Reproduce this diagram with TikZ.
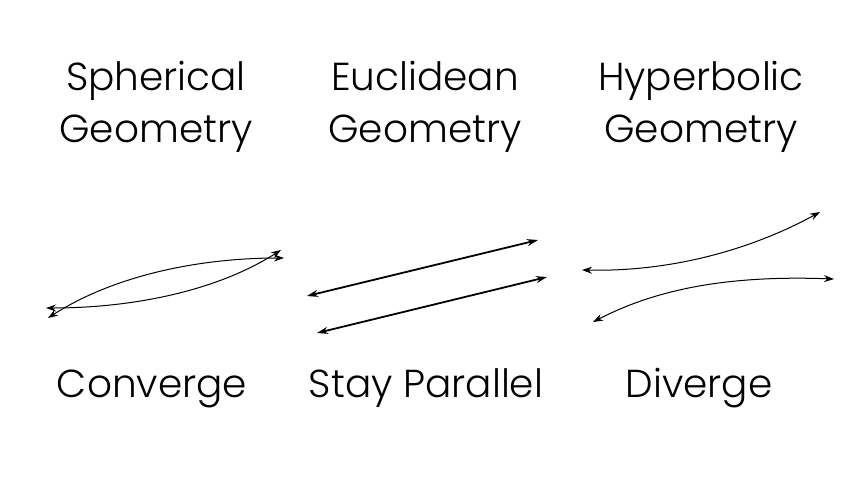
\documentclass[tikz,border=0pt]{standalone}
\usepackage{fontspec}
\setmainfont{Poppins Light}
\usetikzlibrary{arrows.meta}
\begin{document}
\begin{tikzpicture}[x=1pt,y=-1pt,
  title/.style={font=\fontsize{39}{52}\selectfont, align=center, inner sep=0pt, anchor=base},
  caption/.style={font=\fontsize{39}{52}\selectfont, inner sep=0pt, anchor=base},
  thinarr/.style={line width=1pt, {Stealth[length=10pt,width=7pt]}-{Stealth[length=10pt,width=7pt]}},
  thickarr/.style={line width=1.8pt, {Stealth[length=11pt,width=7pt]}-{Stealth[length=11pt,width=7pt]}}]
\useasboundingbox[fill=white] (0,0) rectangle (854,480);
% titles
\node[title] (t1) at (156,142) {Spherical\\Geometry};
\node[title] (t2) at (425,142) {Euclidean\\Geometry};
\node[title] (t3) at (701,142) {Hyperbolic\\Geometry};
% captions
\node[caption] (c1) at (152,397) {Converge};
\node[caption] (c2) at (426,397) {Stay Parallel};
\node[caption] (c3) at (699,397) {Diverge};
% spherical
\coordinate (sa1) at (48,318);
\coordinate (sa2) at (284,258);
\coordinate (sb1) at (46,308);
\coordinate (sb2) at (281,250);
\draw[thinarr] (sa1) .. controls (115,275) and (200,258) .. (sa2);
\draw[thinarr] (sb1) .. controls (130,308) and (215,292) .. (sb2);
% euclidean
\coordinate (ea1) at (307,296);
\coordinate (ea2) at (538,240);
\coordinate (eb1) at (317,333);
\coordinate (eb2) at (547,277);
\draw[thickarr] (ea1) -- (ea2);
\draw[thickarr] (eb1) -- (eb2);
% hyperbolic
\coordinate (ha1) at (582,270);
\coordinate (ha2) at (820,212);
\coordinate (hb1) at (593,322);
\coordinate (hb2) at (834,279);
\draw[thinarr] (ha1) .. controls (680,272) and (760,245) .. (ha2);
\draw[thinarr] (hb1) .. controls (655,290) and (725,275) .. (hb2);
\end{tikzpicture}
\end{document}
